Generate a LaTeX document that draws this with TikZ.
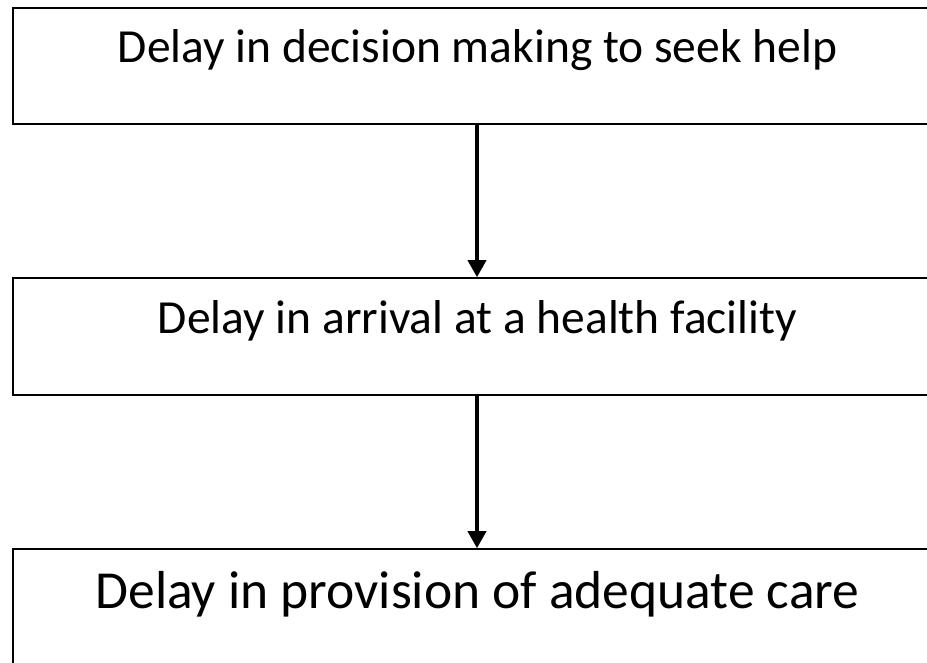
\documentclass[tikz,border=0pt]{standalone}
\usepackage{fontspec}
\setmainfont{Carlito}
\usetikzlibrary{arrows.meta}

\begin{document}
\begin{tikzpicture}[x=1pt,y=-1pt,
		stagebox/.style={draw,line width=1.6pt,minimum width=928pt,inner sep=0pt},
		stagetext/.style={font=\fontsize{47.5}{56}\selectfont,inner sep=0pt,anchor=base},
		delayarrow/.style={line width=3.6pt,-{Triangle[width=18pt,length=17pt]}}]
		\useasboundingbox (0,0) rectangle (927,662);
		\clip (0,0) rectangle (927,662);
		
		% Boxes
		\node[stagebox,minimum height=116pt] (decide) at (477,66) {};
		\node[stagebox,minimum height=117pt] (arrive) at (477,336.5) {};
		\node[stagebox,minimum height=140pt] (care) at (477,619) {};
		
		% Texts
		\node[stagetext] (decidetxt) at (477.5,62) {Delay in decision making to seek help};
		\node[stagetext] (arrivetxt) at (477.5,333) {Delay in arrival at a health facility};
		\node[stagetext,font=\fontsize{53.5}{62}\selectfont] (caretxt) at (477.5,608) {Delay in provision of adequate care};
		
		% Arrows
		\draw[delayarrow] (decide.south) -- (arrive.north);
		\draw[delayarrow] (arrive.south) -- (care.north);
		
\end{tikzpicture}
\end{document}
